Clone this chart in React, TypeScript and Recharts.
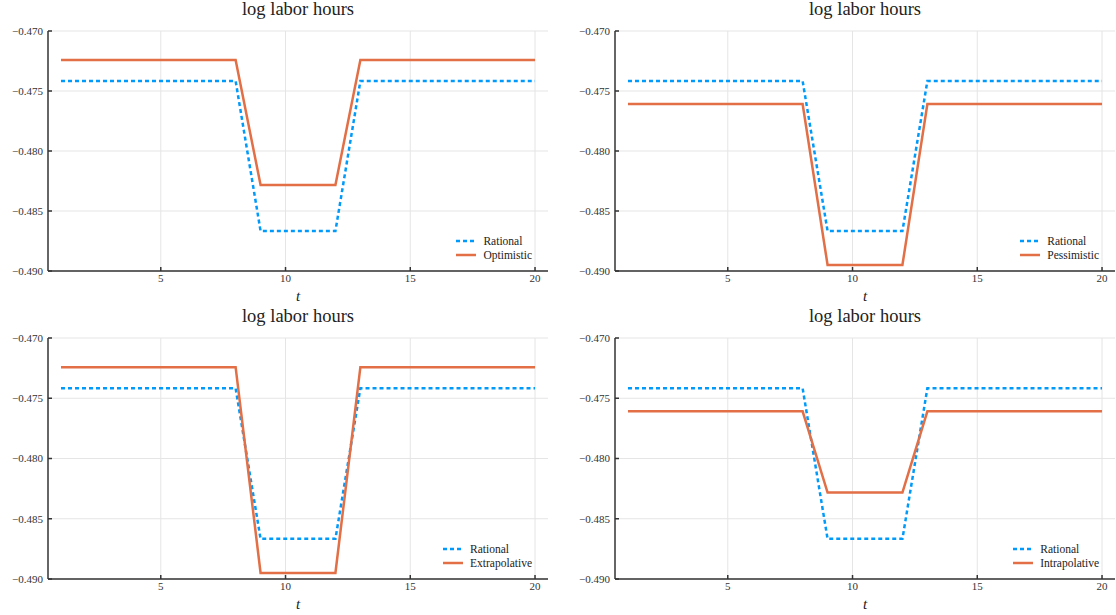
import { LineChart, Line, XAxis, YAxis, CartesianGrid } from 'recharts';

const periods = [1, 2, 3, 4, 5, 6, 7, 8, 9, 10, 11, 12, 13, 14, 15, 16, 17, 18, 19, 20];

const rational = [
  -0.47417, -0.47417, -0.47417, -0.47417, -0.47417, -0.47417, -0.47417, -0.47417,
  -0.48667, -0.48667, -0.48667, -0.48667,
  -0.47417, -0.47417, -0.47417, -0.47417, -0.47417, -0.47417, -0.47417, -0.47417,
];
const optimistic = [
  -0.47242, -0.47242, -0.47242, -0.47242, -0.47242, -0.47242, -0.47242, -0.47242,
  -0.48283, -0.48283, -0.48283, -0.48283,
  -0.47242, -0.47242, -0.47242, -0.47242, -0.47242, -0.47242, -0.47242, -0.47242,
];
const pessimistic = [
  -0.47608, -0.47608, -0.47608, -0.47608, -0.47608, -0.47608, -0.47608, -0.47608,
  -0.4895, -0.4895, -0.4895, -0.4895,
  -0.47608, -0.47608, -0.47608, -0.47608, -0.47608, -0.47608, -0.47608, -0.47608,
];
const extrapolative = [
  -0.47242, -0.47242, -0.47242, -0.47242, -0.47242, -0.47242, -0.47242, -0.47242,
  -0.4895, -0.4895, -0.4895, -0.4895,
  -0.47242, -0.47242, -0.47242, -0.47242, -0.47242, -0.47242, -0.47242, -0.47242,
];
const intrapolative = [
  -0.47608, -0.47608, -0.47608, -0.47608, -0.47608, -0.47608, -0.47608, -0.47608,
  -0.48283, -0.48283, -0.48283, -0.48283,
  -0.47608, -0.47608, -0.47608, -0.47608, -0.47608, -0.47608, -0.47608, -0.47608,
];

const xTicks = [5, 10, 15, 20];
const yTicks = [-0.49, -0.485, -0.48, -0.475, -0.47];

const BLUE = '#009AFA';
const ORANGE = '#E26F46';
const FONT = '"Liberation Serif", "DejaVu Serif", serif';

interface PanelProps {
  left: number;
  top: number;
  width: number;
  height: number;
  yAxisW: number;
  padTop: number;
  padRight: number;
  other: number[];
  otherName: string;
}

const Panel = ({ left, top, width, height, yAxisW, padTop, padRight, other, otherName }: PanelProps) => {
  const data = periods.map((t, i) => ({ t, rational: rational[i], other: other[i] }));
  const xAxisH = 36;
  const plotL = yAxisW;
  const plotR = width - padRight;
  const plotB = height - xAxisH;
  return (
    <div style={{ position: 'absolute', left, top, width, height }}>
      <LineChart width={width} height={height} data={data} margin={{ top: padTop, right: padRight, left: 0, bottom: 0 }}>
        <CartesianGrid stroke="#e5e5e5" strokeWidth={1} horizontalValues={yTicks} verticalValues={xTicks} />
        <XAxis
          dataKey="t"
          type="number"
          domain={[0.48, 20.52]}
          ticks={xTicks}
          allowDataOverflow
          height={xAxisH}
          tickSize={-4}
          tickMargin={7}
          stroke="#333"
          strokeWidth={1.5}
          tick={{ fontSize: 11, fill: '#333', fontFamily: FONT }}
        />
        <YAxis
          type="number"
          domain={[-0.49, -0.47]}
          ticks={yTicks}
          allowDataOverflow
          width={yAxisW}
          tickSize={-4}
          tickMargin={9}
          stroke="#333"
          strokeWidth={1.5}
          tickFormatter={(v: number) => '\u2212' + Math.abs(v).toFixed(3)}
          tick={{ fontSize: 11, fill: '#333', fontFamily: FONT }}
        />
        <Line type="linear" dataKey="rational" stroke={BLUE} strokeWidth={2.5} strokeDasharray="4 3" dot={false} isAnimationActive={false} />
        <Line type="linear" dataKey="other" stroke={ORANGE} strokeWidth={2.5} dot={false} isAnimationActive={false} />
      </LineChart>
      <div style={{ position: 'absolute', left: plotL, width: plotR - plotL, top: 0, textAlign: 'center', fontFamily: FONT, fontSize: 18.5, color: '#222', lineHeight: '18px' }}>
        log labor hours
      </div>
      <div style={{ position: 'absolute', left: plotL, width: plotR - plotL, top: plotB + 17, textAlign: 'center', fontFamily: FONT, fontSize: 15, fontStyle: 'italic', color: '#222', lineHeight: '16px' }}>
        t
      </div>
      <div style={{ position: 'absolute', right: width - plotR + 16, top: plotB - 37, fontFamily: FONT, fontSize: 11.5, color: '#222', lineHeight: '14px' }}>
        <div style={{ display: 'flex', alignItems: 'center' }}>
          <svg width={22} height={6} style={{ marginRight: 6 }}>
            <line x1={1} y1={3} x2={21} y2={3} stroke={BLUE} strokeWidth={2.5} strokeDasharray="4 3" />
          </svg>
          Rational
        </div>
        <div style={{ display: 'flex', alignItems: 'center' }}>
          <svg width={22} height={6} style={{ marginRight: 6 }}>
            <line x1={1} y1={3} x2={21} y2={3} stroke={ORANGE} strokeWidth={2.5} />
          </svg>
          {otherName}
        </div>
      </div>
    </div>
  );
};

const App = () => {
  return (
    <div style={{ position: 'absolute', left: 0, top: 0, width: 1116, height: 615, background: '#fff' }}>
      <Panel left={0} top={0} width={558} height={307} yAxisW={48} padTop={31} padRight={10} other={optimistic} otherName="Optimistic" />
      <Panel left={558} top={0} width={558} height={307} yAxisW={57} padTop={31} padRight={1} other={pessimistic} otherName="Pessimistic" />
      <Panel left={0} top={307} width={558} height={308} yAxisW={48} padTop={31} padRight={10} other={extrapolative} otherName="Extrapolative" />
      <Panel left={558} top={307} width={558} height={308} yAxisW={57} padTop={31} padRight={1} other={intrapolative} otherName="Intrapolative" />
    </div>
  );
};

export default App;
